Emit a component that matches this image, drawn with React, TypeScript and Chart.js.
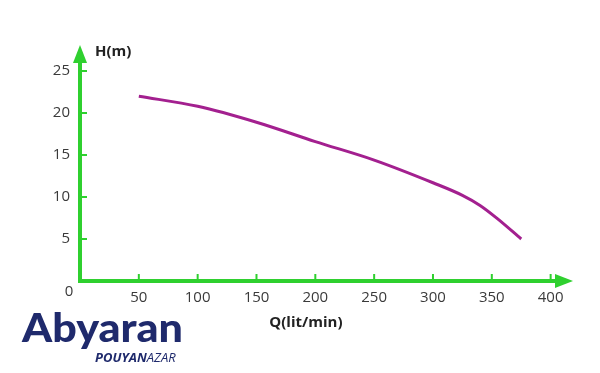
import React, { useEffect, useRef } from "react";
import { Chart, registerables } from "chart.js";

Chart.register(...registerables);

const FLOW_Q = [50, 100, 150, 200, 250, 300, 325, 340, 355, 375];
const HEAD_H = [22.0, 20.8, 18.9, 16.6, 14.4, 11.7, 10.2, 9.0, 7.4, 5.0];
const X_TICKS = [50, 100, 150, 200, 250, 300, 350, 400];
const Y_TICKS = [5, 10, 15, 20, 25];
const X_TITLE = "Q(lit/min)";
const Y_TITLE = "H(m)";
const ORIGIN_LABEL = "0";
const BRAND = "Abyaran";
const SUB_A = "POUYAN";
const SUB_B = "AZAR";

const GREEN = "#2fd02f";
const CURVE = "#a3208f";
const NAVY = "#1f2a6c";
const TEXT = "#3a3a3a";

const axesPlugin = {
  id: "arrowAxes",
  afterDraw(chart: any) {
    const { ctx, chartArea, scales } = chart;
    const xs = scales.x;
    const ys = scales.y;
    const x0 = xs.getPixelForValue(0);
    const y0 = ys.getPixelForValue(0);
    ctx.save();
    ctx.strokeStyle = GREEN;
    ctx.fillStyle = GREEN;
    ctx.lineWidth = 4;
    ctx.lineCap = "butt";
    ctx.beginPath();
    ctx.moveTo(x0 - 2, y0);
    ctx.lineTo(chartArea.right - 16, y0);
    ctx.moveTo(x0, y0 + 2);
    ctx.lineTo(x0, chartArea.top + 16);
    ctx.stroke();
    ctx.beginPath();
    ctx.moveTo(chartArea.right, y0);
    ctx.lineTo(chartArea.right - 18, y0 - 7);
    ctx.lineTo(chartArea.right - 18, y0 + 7);
    ctx.closePath();
    ctx.fill();
    ctx.beginPath();
    ctx.moveTo(x0, chartArea.top);
    ctx.lineTo(x0 - 7, chartArea.top + 18);
    ctx.lineTo(x0 + 7, chartArea.top + 18);
    ctx.closePath();
    ctx.fill();
    ctx.lineWidth = 2;
    ctx.beginPath();
    X_TICKS.forEach((v) => {
      const px = xs.getPixelForValue(v);
      ctx.moveTo(px, y0);
      ctx.lineTo(px, y0 - 7);
    });
    Y_TICKS.forEach((v) => {
      const py = ys.getPixelForValue(v);
      ctx.moveTo(x0, py);
      ctx.lineTo(x0 + 7, py);
    });
    ctx.stroke();

    ctx.fillStyle = TEXT;
    ctx.font = "15px 'Open Sans'";
    ctx.textAlign = "center";
    ctx.textBaseline = "middle";
    ctx.fillText(ORIGIN_LABEL, x0 - 11, y0 + 11);

    ctx.fillStyle = "#222";
    ctx.font = "bold 15px 'Open Sans'";
    ctx.textAlign = "left";
    ctx.textBaseline = "alphabetic";
    ctx.fillText(Y_TITLE, x0 + 15, chartArea.top + 11);

    ctx.font = "bold 15px 'Open Sans'";
    ctx.textAlign = "center";
    ctx.textBaseline = "middle";
    ctx.fillText(X_TITLE, xs.getPixelForValue(192), y0 + 42);

    ctx.fillStyle = NAVY;
    ctx.font = "900 40px Lato";
    ctx.textAlign = "left";
    ctx.textBaseline = "alphabetic";
    const w = ctx.measureText(BRAND).width;
    ctx.save();
    ctx.translate(22, 342);
    ctx.scale(161 / w, 1);
    ctx.fillText(BRAND, 0, 0);
    ctx.restore();

    ctx.font = "italic bold 13px 'Open Sans'";
    const wa = ctx.measureText(SUB_A).width;
    ctx.fillText(SUB_A, 95, 362);
    ctx.font = "italic 13px 'Open Sans'";
    ctx.fillText(SUB_B, 95 + wa, 362);
    ctx.restore();
  },
};

export default function App() {
  const ref = useRef<HTMLCanvasElement | null>(null);
  useEffect(() => {
    if (!ref.current) return;
    const chart = new Chart(ref.current, {
      type: "line",
      data: {
        datasets: [
          {
            data: FLOW_Q.map((q, i) => ({ x: q, y: HEAD_H[i] })),
            borderColor: CURVE,
            borderWidth: 3,
            pointRadius: 0,
            cubicInterpolationMode: "monotone",
            fill: false,
          },
        ],
      },
      options: {
        animation: false,
        responsive: false,
        layout: { padding: { top: 45, right: 27, left: 0, bottom: 0 } },
        plugins: { legend: { display: false }, tooltip: { enabled: false } },
        scales: {
          x: {
            type: "linear",
            min: 0,
            max: 419,
            grid: { display: false, drawTicks: false },
            border: { display: false },
            afterBuildTicks: (s: any) => {
              s.ticks = X_TICKS.map((v) => ({ value: v }));
            },
            afterFit: (s: any) => {
              s.height = 92;
            },
            ticks: {
              padding: 8,
              color: TEXT,
              font: { family: "'Open Sans'", size: 15 },
              maxRotation: 0,
              autoSkip: false,
            },
          },
          y: {
            type: "linear",
            min: 0,
            max: 28.1,
            grid: { display: false, drawTicks: false },
            border: { display: false },
            afterBuildTicks: (s: any) => {
              s.ticks = Y_TICKS.map((v) => ({ value: v }));
            },
            afterFit: (s: any) => {
              s.width = 80;
            },
            ticks: {
              padding: 10,
              color: TEXT,
              font: { family: "'Open Sans'", size: 15 },
            },
          },
        },
      },
      plugins: [axesPlugin],
    } as any);
    return () => chart.destroy();
  }, []);
  return (
    <div style={{ position: "fixed", left: 0, top: 0, width: 600, height: 373, background: "#fff" }}>
      <canvas ref={ref} width={600} height={373} />
    </div>
  );
}
